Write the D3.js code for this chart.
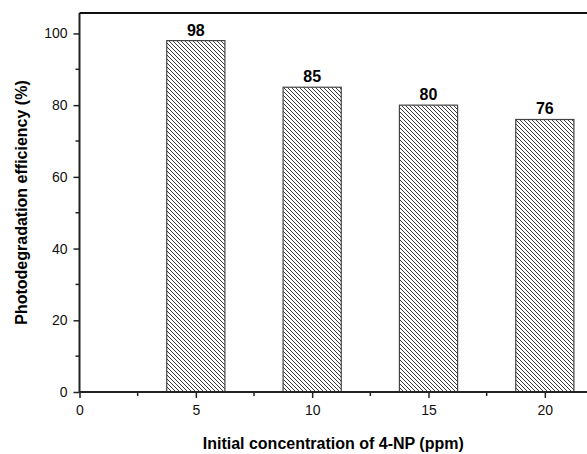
<!DOCTYPE html>
<html>
<head>
<meta charset="utf-8">
<script src="https://cdn.jsdelivr.net/npm/d3@7"></script>
<style>
  body { margin: 0; background: #fff; }
  svg { display: block; font-family: Arial, "Liberation Sans", sans-serif; }
</style>
</head>
<body>
<script>
var concentrations = [5, 10, 15, 20];
var efficiency = [98, 85, 80, 76];
var yTicks = [0, 20, 40, 60, 80, 100];
var xTicks = [0, 5, 10, 15, 20];

var W = 587, H = 454;
var svg = d3.select('body').append('svg').attr('width', W).attr('height', H);

var x = d3.scaleLinear().domain([0, 22.5]).range([79.5, 603]);
var y = d3.scaleLinear().domain([0, 105.7]).range([392, 13]);

// hatch pattern
var defs = svg.append('defs');
var pat = defs.append('pattern').attr('id', 'hatch').attr('patternUnits', 'userSpaceOnUse')
  .attr('width', 4).attr('height', 4);
pat.append('rect').attr('width', 4).attr('height', 4).attr('fill', '#fff');
pat.append('path').attr('d', 'M-1,-1 L5,5 M-1,3 L1,5 M3,-1 L5,1')
  .attr('stroke', '#3a3a3a').attr('stroke-width', 1);

// bars
var bw = x(1.25) - x(0);
svg.selectAll('rect.bar').data(concentrations).enter().append('rect')
  .attr('class', 'bar')
  .attr('x', function (d) { return x(d - 1.25); })
  .attr('width', function () { return 2 * bw; })
  .attr('y', function (d, i) { return y(efficiency[i]); })
  .attr('height', function (d, i) { return y(0) - y(efficiency[i]); })
  .attr('fill', 'url(#hatch)').attr('stroke', '#444').attr('stroke-width', 1.2);

// value labels
svg.selectAll('text.val').data(concentrations).enter().append('text')
  .attr('class', 'val')
  .attr('x', function (d) { return x(d); })
  .attr('y', function (d, i) { return y(efficiency[i]) - 5; })
  .attr('text-anchor', 'middle').attr('font-size', 16).attr('font-weight', 'bold')
  .text(function (d, i) { return efficiency[i]; });

// y axis
var yAxis = d3.axisLeft(y).tickValues(yTicks).tickSize(6).tickPadding(6);
var gy = svg.append('g').attr('transform', 'translate(' + x(0) + ',0)').call(yAxis);
gy.append('g').selectAll('line').data([10, 30, 50, 70, 90]).enter().append('line')
  .attr('x1', -4).attr('x2', 0).attr('y1', function (d) { return y(d); }).attr('y2', function (d) { return y(d); })
  .attr('stroke', '#222').attr('stroke-width', 1.5);

// x axis
var xAxis = d3.axisBottom(x).tickValues(xTicks).tickSize(6).tickPadding(7);
var gx = svg.append('g').attr('transform', 'translate(0,' + y(0) + ')').call(xAxis);
gx.append('g').selectAll('line').data([2.5, 7.5, 12.5, 17.5]).enter().append('line')
  .attr('x1', function (d) { return x(d); }).attr('x2', function (d) { return x(d); })
  .attr('y1', 0).attr('y2', 4).attr('stroke', '#222').attr('stroke-width', 1.5);

[gx, gy].forEach(function (g) {
  g.select('.domain').attr('stroke', '#222').attr('stroke-width', 2);
  g.selectAll('.tick line').attr('stroke', '#222').attr('stroke-width', 1.5);
  g.selectAll('.tick text').attr('font-size', 14).attr('fill', '#111')
    .attr('font-family', 'Arial, "Liberation Sans", sans-serif');
});
gx.select('.domain').attr('d', 'M' + x(0) + ',0H' + W);
gy.select('.domain').attr('d', 'M0,' + y(0) + 'V' + y(105.7));

// top frame
svg.append('line').attr('x1', x(0)).attr('x2', W).attr('y1', y(105.7)).attr('y2', y(105.7))
  .attr('stroke', '#111').attr('stroke-width', 2);

// titles
var cx = (x(0) + W) / 2, cy = (y(0) + y(105.7)) / 2;
svg.append('text').attr('x', cx).attr('y', 449).attr('text-anchor', 'middle')
  .attr('font-size', 16).attr('font-weight', 'bold').text('Initial concentration of 4-NP (ppm)');
svg.append('text').attr('transform', 'translate(27,' + cy + ') rotate(-90)').attr('text-anchor', 'middle')
  .attr('font-size', 16).attr('font-weight', 'bold').text('Photodegradation efficiency (%)');
</script>
</body>
</html>
